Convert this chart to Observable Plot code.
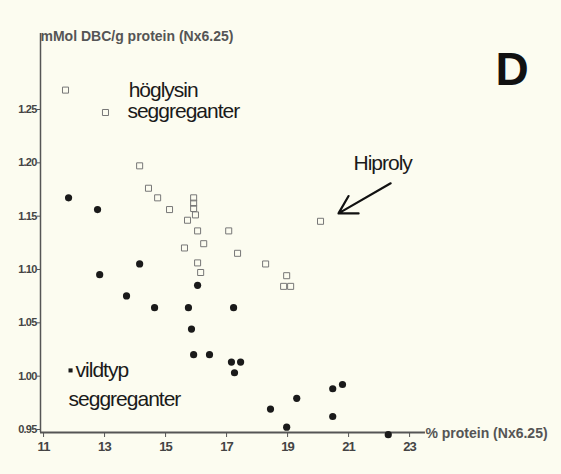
<!DOCTYPE html>
<html><head><meta charset="utf-8">
<script src="https://cdn.jsdelivr.net/npm/d3@7"></script>
<script src="https://cdn.jsdelivr.net/npm/@observablehq/plot@0.6"></script>
<style>
html,body{margin:0;padding:0;background:#fcfcf0;}
g[aria-label="y-axis tick label"] text, g[aria-label="x-axis tick label"] text{letter-spacing:-0.8px;}
</style></head><body><div id="chart"></div>
<script>
// höglysin seggreganter (open squares)
const hoglysinProtein = [11.72, 13.03, 14.15, 14.44, 14.74, 15.13, 15.92, 15.92, 15.92, 15.98, 15.72, 16.05, 17.07, 16.25, 15.62, 17.36, 16.05, 16.15, 18.28, 18.97, 18.87, 19.10, 20.08];
const hoglysinDBC     = [1.271, 1.250, 1.200, 1.179, 1.170, 1.159, 1.170, 1.165, 1.160, 1.154, 1.149, 1.139, 1.139, 1.127, 1.123, 1.118, 1.109, 1.100, 1.108, 1.097, 1.087, 1.087, 1.148];
// vildtyp seggreganter (filled dots)
const vildtypProtein = [11.82, 12.77, 12.84, 14.15, 13.72, 14.64, 15.75, 16.05, 15.85, 15.92, 16.44, 17.23, 17.16, 17.46, 17.26, 18.44, 18.97, 19.30, 20.48, 20.80, 20.48, 22.30];
const vildtypDBC     = [1.170, 1.159, 1.098, 1.108, 1.078, 1.067, 1.067, 1.088, 1.047, 1.023, 1.023, 1.067, 1.016, 1.016, 1.006, 0.972, 0.955, 0.982, 0.991, 0.995, 0.965, 0.948];
const xTicks = [11, 13, 15, 17, 19, 21, 23];
const yTicks = [0.95, 1.00, 1.05, 1.10, 1.15, 1.20, 1.25];

const hoglysin = hoglysinProtein.map((p, i) => ({protein: p, dbc: hoglysinDBC[i]}));
const vildtyp = vildtypProtein.map((p, i) => ({protein: p, dbc: vildtypDBC[i]}));

const ink = "#1a1a1a";
const axisInk = "#555";
const font = "'Liberation Sans', Arial, sans-serif";

const chart = Plot.plot({
  width: 561, height: 474,
  marginTop: 0, marginBottom: 42, marginLeft: 40, marginRight: 0,
  style: {background: "#fcfcf0", fontFamily: font, color: axisInk, overflow: "visible"},
  x: {domain: [10.9, 27.98]},
  y: {domain: [0.95, 1.355]},
  marks: [
    Plot.axisX({ticks: xTicks, tickSize: 5, tickPadding: 4, tickFormat: d => String(d), label: null, fontSize: 13, fontWeight: "bold", stroke: axisInk, fill: "#444"}),
    Plot.axisY({ticks: yTicks, tickSize: 3, tickPadding: 1, tickFormat: d3.format(".2f"), label: null, fontSize: 11, fontWeight: "bold", stroke: axisInk, fill: "#444", dy: -3}),
    Plot.ruleY([0.95], {x1: 10.9, x2: 23.52, stroke: axisInk, strokeWidth: 2}),
    Plot.ruleX([10.9], {y1: 0.95, y2: 1.324, stroke: axisInk, strokeWidth: 1.5}),
    Plot.dot(hoglysin, {x: "protein", y: "dbc", symbol: "square", r: 3.4, stroke: "#777", strokeWidth: 1, fill: "none"}),
    Plot.dot(vildtyp, {x: "protein", y: "dbc", r: 3.6, fill: ink, stroke: "none"}),
    Plot.text(["mMol DBC/g protein (Nx6.25)"], {x: 10.9, y: 1.3168, textAnchor: "start", lineAnchor: "bottom", fontSize: 14, fontWeight: "bold", fill: "#555"}),
    Plot.text(["% protein (Nx6.25)"], {x: 23.52, y: 0.9444, textAnchor: "start", lineAnchor: "bottom", fontSize: 14, fontWeight: "bold", fill: "#555"}),
    Plot.text(["höglysin"], {x: 13.79, y: 1.2643, textAnchor: "start", lineAnchor: "bottom", fontSize: 21, fill: ink}),
    Plot.text(["seggreganter"], {x: 13.75, y: 1.2446, textAnchor: "start", lineAnchor: "bottom", fontSize: 21, fill: ink}),
    Plot.text(["Hiproly"], {x: 21.16, y: 1.1958, textAnchor: "start", lineAnchor: "bottom", fontSize: 21, fill: ink}),
    Plot.dot([0], {x: 11.885, y: 1.0082, symbol: "square", r: 2.3, fill: ink}),
    Plot.text(["vildtyp"], {x: 12.05, y: 1.0016, textAnchor: "start", lineAnchor: "bottom", fontSize: 21, fill: ink}),
    Plot.text(["seggreganter"], {x: 11.82, y: 0.9753, textAnchor: "start", lineAnchor: "bottom", fontSize: 21, fill: ink}),
    Plot.text(["D"], {x: 25.82, y: 1.2755, textAnchor: "start", lineAnchor: "bottom", fontSize: 46, fontWeight: "bold", fill: "#111"}),
    Plot.arrow([0], {x1: 22.38, y1: 1.1836, x2: 20.67, y2: 1.1554, stroke: "#111", strokeWidth: 2.2, headLength: 16, bend: 0})
  ]
});
document.getElementById("chart").appendChild(chart);
const tight = ["höglysin", "seggreganter", "Hiproly", "vildtyp"];
d3.select(chart).selectAll("text").filter(function() { return tight.includes(this.textContent); }).attr("letter-spacing", "-1px");
</script></body></html>
